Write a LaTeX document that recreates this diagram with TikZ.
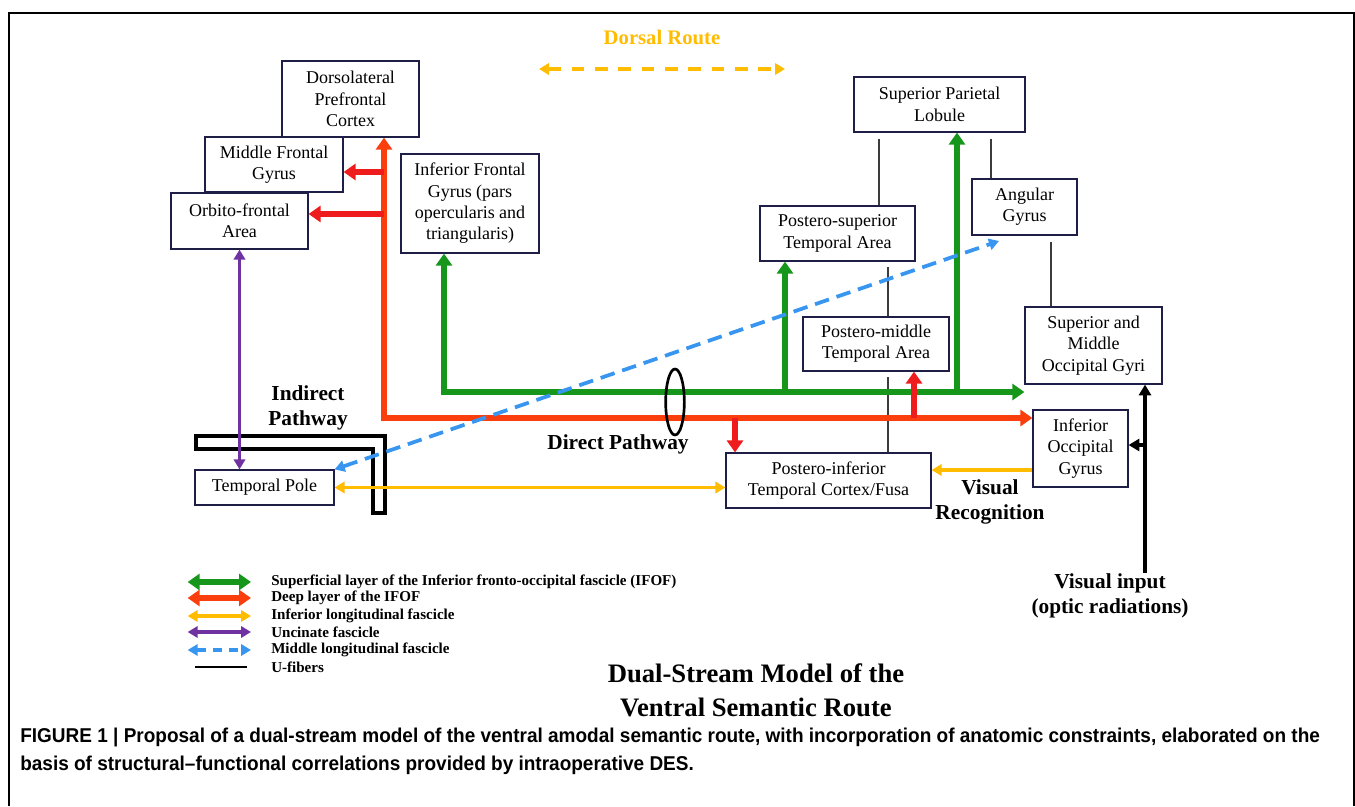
\documentclass[tikz,border=0pt]{standalone}
\usepackage{fontspec}
\setmainfont{Liberation Serif}
\newfontfamily\capfont[FakeStretch=0.95]{Liberation Sans}
\usetikzlibrary{arrows.meta, shapes.geometric}

\definecolor{ifofsup}{RGB}{22,150,26}
\definecolor{ifofdeep}{RGB}{250,62,14}
\definecolor{ifofbr}{RGB}{238,28,28}
\definecolor{ilfyel}{RGB}{255,188,0}
\definecolor{uncpur}{RGB}{112,50,160}
\definecolor{mdlfblue}{RGB}{56,150,240}
\definecolor{boxnavy}{RGB}{30,30,70}
\definecolor{ufgray}{RGB}{60,60,60}

\begin{document}
\begin{tikzpicture}[x=0.75pt,y=-0.75pt,
  area/.style={draw=boxnavy,fill=white,line width=0.9pt,align=center,inner sep=1pt,
    font=\fontsize{13.5}{16}\selectfont},
  lbl/.style={align=center,inner sep=0pt,font=\bfseries\fontsize{16}{18.75}\selectfont},
  legtxt/.style={anchor=west,inner sep=0pt,font=\bfseries\fontsize{11.3}{13}\selectfont},
  super/.style={ifofsup,line width=4pt,>={Triangle[width=12pt,length=9pt]}},
  deep/.style={ifofdeep,line width=4pt,>={Triangle[width=12pt,length=9pt]}},
  deepbr/.style={ifofbr,line width=4pt,>={Triangle[width=12pt,length=9pt]}},
  ilf/.style={ilfyel,line width=2.8pt,>={Triangle[width=8.5pt,length=7.5pt]}},
  unc/.style={uncpur,line width=2.8pt,>={Triangle[width=8.5pt,length=7.5pt]}},
  mdlf/.style={mdlfblue,line width=2.8pt,dash pattern=on 11pt off 6pt,>={Triangle[width=8.5pt,length=7.5pt]}},
  vis/.style={black,line width=2.6pt,>={Triangle[width=9pt,length=8pt]}},
  ufib/.style={ufgray,line width=0.8pt}]
\useasboundingbox (0,0) rectangle (1355,806);
\draw[line width=1pt] (9,806) -- (9,13) -- (1354,13) -- (1354,806);

% cortical areas
\node[area,minimum width=102.75pt,minimum height=57pt] (dlpfc) at (350.5,99) {Dorsolateral\\Prefrontal\\Cortex};
\node[area,minimum width=103.5pt,minimum height=41.25pt] (mfg) at (274,164.5) {Middle Frontal\\Gyrus};
\node[area,minimum width=102.75pt,minimum height=42pt] (ofa) at (239.5,221) {Orbito-frontal\\Area};
\node[area,minimum width=103.5pt,minimum height=74.25pt] (ifg) at (470,203.5) {Inferior Frontal\\Gyrus (pars\\opercularis and\\triangularis)};
\node[area,minimum width=128.25pt,minimum height=41.25pt] (spl) at (939.5,104.5) {Superior Parietal\\Lobule};
\node[area,minimum width=116.25pt,minimum height=41.25pt] (psta) at (837.5,233.5) {Postero-superior\\Temporal Area};
\node[area,minimum width=78.75pt,minimum height=42pt] (ag) at (1024.5,207) {Angular\\Gyrus};
\node[area,minimum width=109.5pt,minimum height=40.5pt] (pmta) at (876,344) {Postero-middle\\Temporal Area};
\node[area,minimum width=102.75pt,minimum height=57.75pt] (smog) at (1093.5,345.5) {Superior and\\Middle\\Occipital Gyri};
\node[area,minimum width=71.25pt,minimum height=57.75pt] (iog) at (1080.5,448.5) {Inferior\\Occipital\\Gyrus};
\node[area,minimum width=153.75pt,minimum height=41.25pt] (pitc) at (828.5,480.5) {Postero-inferior\\Temporal Cortex/Fusa};
\node[area,minimum width=104.25pt,minimum height=26.25pt] (tp) at (264.5,487.5) {Temporal Pole};

% labels
\node[font=\bfseries\fontsize{15.5}{18}\selectfont,text=ilfyel] (dorsal) at (662,37) {Dorsal Route};
\node[lbl] (indirect) at (308,407.5) {Indirect\\Pathway};
\node[lbl] (direct) at (618,444) {Direct Pathway};
\node[lbl] (visrec) at (990,501.5) {Visual\\Recognition};
\node[lbl] (vinput) at (1110,595.5) {Visual input\\(optic radiations)};
\node[font=\bfseries\fontsize{20}{25.5}\selectfont,align=center] (title) at (756,690) {Dual-Stream Model of the\\Ventral Semantic Route};

% dorsal route
\coordinate (dorsalL) at (539,69);
\coordinate (dorsalR) at (785,69);
\draw[ilf,dash pattern=on 9.5pt off 8pt,<->] (dorsalL) -- (dorsalR);

% indirect pathway bracket
\draw[line width=2.4pt] (196,436) -- (385,436) -- (385,513) -- (373,513) -- (373,449) -- (196,449) -- cycle;

% U-fibers
\coordinate (uA) at (879,0);
\coordinate (uB) at (991,0);
\coordinate (uC) at (1051,0);
\coordinate (uD) at (888,0);
\draw[ufib,shorten <=4.5pt] (spl.south -| uA) -- (psta.north -| uA);
\draw[ufib,shorten <=4.5pt] (spl.south -| uB) -- (ag.north -| uB);
\draw[ufib,shorten <=4.5pt] (ag.south -| uC) -- (smog.north -| uC);
\draw[ufib,shorten <=4pt] (psta.south -| uD) -- (pmta.north -| uD);
\draw[ufib,shorten <=4pt] (pmta.south -| uD) -- (pitc.north -| uD);

% superficial IFOF
\coordinate (gc) at (444,392);
\coordinate (g1) at (785,392);
\coordinate (g2) at (957,392);
\draw[super,<->] (ifg.south -| gc) -- (gc) -- (gc -| smog.west);
\draw[super,->] (g1) -- (g1 |- psta.south);
\draw[super,->] (g2) -- (g2 |- spl.south);

% deep IFOF
\coordinate (rc) at (384,418);
\coordinate (r1) at (384,172);
\coordinate (r2) at (384,214);
\coordinate (r3) at (735,418);
\coordinate (r4) at (914,418);
\draw[deep,<->] (dlpfc.south -| rc) -- (rc) -- (rc -| iog.west);
\draw[deepbr,->] (r1) -- (r1 -| mfg.east);
\draw[deepbr,->] (r2) -- (r2 -| ofa.east);
\draw[deepbr,->] (r3) -- (r3 |- pitc.north);
\draw[deepbr,->] (r4) -- (r4 |- pmta.south);

% ILF
\coordinate (y1) at (1033,470);
\draw[ilf,<->] (tp.east) -- (tp.east -| pitc.west);
\draw[ilf,->] (y1 -| iog.west) -- (y1 -| pitc.east);

% uncinate
\draw[unc,<->] (ofa.south) -- (ofa.south |- tp.north);

% MdLF
\coordinate (m2) at (999,241);
\draw[mdlf,<->] (tp.north east) -- (m2);

% visual input
\coordinate (v1) at (1145,445);
\draw[vis,->] (vinput.north -| v1) -- (v1 |- smog.south);
\draw[vis,->] (v1) -- (v1 -| iog.east);

\node[draw,ellipse,line width=2pt,minimum width=14pt,minimum height=49.5pt,inner sep=0pt] (bundle) at (675,402) {};

% legend
\node[legtxt] (lg1) at (271,582) {Superficial layer of the Inferior fronto-occipital fascicle (IFOF)};
\node[legtxt] (lg2) at (271,598) {Deep layer of the IFOF};
\node[legtxt] (lg3) at (271,616) {Inferior longitudinal fascicle};
\node[legtxt] (lg4) at (271,632) {Uncinate fascicle};
\node[legtxt] (lg5) at (271,650) {Middle longitudinal fascicle};
\node[legtxt] (lg6) at (271,667) {U-fibers};
\draw[super,<->] ([xshift=-62.5pt]lg1.west) -- ([xshift=-15pt]lg1.west);
\draw[deep,<->] ([xshift=-62.5pt]lg2.west) -- ([xshift=-15pt]lg2.west);
\draw[ilf,<->] ([xshift=-62.5pt]lg3.west) -- ([xshift=-15pt]lg3.west);
\draw[unc,<->] ([xshift=-62.5pt]lg4.west) -- ([xshift=-15pt]lg4.west);
\draw[mdlf,dash pattern=on 7pt off 5pt,<->] ([xshift=-62.5pt]lg5.west) -- ([xshift=-15pt]lg5.west);
\draw[black,line width=0.8pt] ([xshift=-57pt]lg6.west) -- ([xshift=-18pt]lg6.west);

% caption
\node[anchor=west,inner sep=0pt,font=\capfont\bfseries\fontsize{15}{21}\selectfont] (cap1) at (20,737) {FIGURE 1 | Proposal of a dual-stream model of the ventral amodal semantic route, with incorporation of anatomic constraints, elaborated on the};
\node[anchor=west,inner sep=0pt,font=\capfont\bfseries\fontsize{15}{21}\selectfont] (cap2) at (20,765) {basis of structural–functional correlations provided by intraoperative DES.};
\end{tikzpicture}
\end{document}
